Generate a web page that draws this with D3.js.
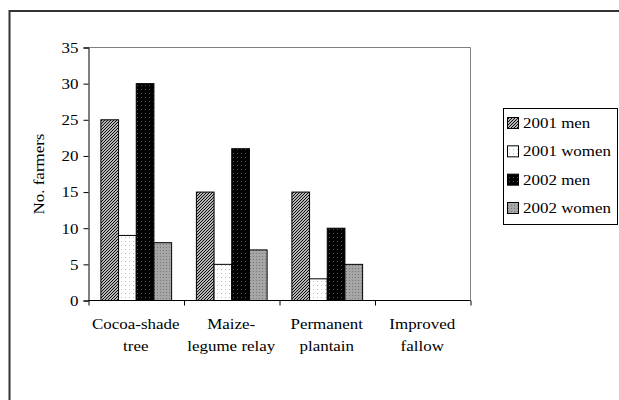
<!DOCTYPE html>
<html>
<head>
<meta charset="utf-8">
<script src="https://cdn.jsdelivr.net/npm/d3@7"></script>
<style>
  body { margin: 0; background: #fff; }
  text { font-family: "Liberation Serif", "Times New Roman", serif; fill: #000; }
</style>
</head>
<body>
<div id="chart"></div>
<script>
// ----- DATA
var categories = [["Cocoa-shade", "tree"], ["Maize-", "legume relay"], ["Permanent", "plantain"], ["Improved", "fallow"]];
var seriesNames = ["2001 men", "2001 women", "2002 men", "2002 women"];
var men2001 = [25, 15, 15, 0];
var women2001 = [9, 5, 3, 0];
var men2002 = [30, 21, 10, 0];
var women2002 = [8, 7, 5, 0];
var yTicks = [0, 5, 10, 15, 20, 25, 30, 35];

var seriesValues = [men2001, women2001, men2002, women2002];
var patternIds = ["p-men01", "p-women01", "p-men02", "p-women02"];

// ----- FIGURE
const size = { width: 619, height: 400 };
const plot = { left: 88, right: 470, top: 47, bottom: 300 };
const textStretch = 1.13;

var svg = d3.select("#chart")
    .append("svg")
    .attr("width", size.width)
    .attr("height", size.height);

// patterns
var defs = svg.append("defs");

var pat1 = defs.append("pattern").attr("id", "p-men01")
    .attr("patternUnits", "userSpaceOnUse").attr("width", 3).attr("height", 3);
pat1.append("rect").attr("width", 3).attr("height", 3).attr("fill", "#fff");
pat1.append("path").attr("d", "M0,3 L3,0 M-1,1 L1,-1 M2,4 L4,2")
    .attr("stroke", "#000").attr("stroke-width", 1.1);

var pat2 = defs.append("pattern").attr("id", "p-women01")
    .attr("patternUnits", "userSpaceOnUse").attr("width", 4).attr("height", 4);
pat2.append("rect").attr("width", 4).attr("height", 4).attr("fill", "#fff");
pat2.append("rect").attr("x", 1).attr("y", 1).attr("width", 1).attr("height", 1).attr("fill", "#bbb");

var pat3 = defs.append("pattern").attr("id", "p-men02")
    .attr("patternUnits", "userSpaceOnUse").attr("width", 4).attr("height", 4);
pat3.append("rect").attr("width", 4).attr("height", 4).attr("fill", "#000");
pat3.append("rect").attr("x", 1).attr("y", 1).attr("width", 1).attr("height", 1).attr("fill", "#555");

var pat4 = defs.append("pattern").attr("id", "p-women02")
    .attr("patternUnits", "userSpaceOnUse").attr("width", 3).attr("height", 3);
pat4.append("rect").attr("width", 3).attr("height", 3).attr("fill", "#a6a6a6");
pat4.append("rect").attr("x", 1).attr("y", 1).attr("width", 1).attr("height", 1).attr("fill", "#777");

// outer frame (runs off the right and bottom edge)
svg.append("path")
    .attr("d", "M9.5," + (size.height + 5) + " L9.5,11 L" + (size.width + 5) + ",11")
    .attr("fill", "none")
    .attr("stroke", "#333")
    .attr("stroke-width", 2);

// scales
var x_scale = d3.scaleBand()
    .domain(d3.range(categories.length))
    .range([plot.left, plot.right]);

var x_inner = d3.scaleBand()
    .domain(d3.range(seriesNames.length))
    .range([0, x_scale.bandwidth()])
    .paddingInner(0)
    .paddingOuter(0.7);

var y_scale = d3.scaleLinear()
    .domain([0, 35])
    .range([plot.bottom, plot.top]);

// plot area border (top/right grey)
svg.append("path")
    .attr("d", "M" + plot.left + "," + (plot.top + 0.5) + " L" + (plot.right + 0.5) + "," + (plot.top + 0.5) + " L" + (plot.right + 0.5) + "," + plot.bottom)
    .attr("fill", "none")
    .attr("stroke", "#808080")
    .attr("stroke-width", 1);

// bars
seriesValues.forEach(function (values, s) {
    svg.append("g")
        .selectAll("rect")
        .data(values)
        .join("rect")
        .filter(function (d) { return d > 0; })
        .attr("x", function (d, i) { return x_scale(i) + x_inner(s) + 0.5; })
        .attr("y", function (d) { return y_scale(d) + 0.5; })
        .attr("width", x_inner.bandwidth())
        .attr("height", function (d) { return y_scale(0) - y_scale(d); })
        .attr("fill", "url(#" + patternIds[s] + ")")
        .attr("stroke", "#000")
        .attr("stroke-width", 1);
});

// Y axis
var y_axis = d3.axisLeft(y_scale).tickValues(yTicks).tickSize(5).tickPadding(5);
var gy = svg.append("g")
    .attr("transform", "translate(" + (plot.left + 0.5) + ",0.5)")
    .call(y_axis);
gy.select(".domain").attr("stroke", "#000");
gy.selectAll(".tick line").attr("stroke", "#000");
gy.selectAll(".tick text")
    .attr("font-size", 15)
    .attr("font-family", "Liberation Serif")
    .attr("transform", function () {
        var x = +d3.select(this).attr("x");
        return "translate(" + x + ",0) scale(" + textStretch + ",1) translate(" + (-x) + ",0)";
    });

// X axis (ticks on category boundaries)
var x_axis = d3.axisBottom(d3.scaleLinear().domain([0, categories.length]).range([plot.left, plot.right]))
    .tickValues(d3.range(categories.length + 1))
    .tickSize(5)
    .tickFormat("");
var gx = svg.append("g")
    .attr("transform", "translate(0.5," + (plot.bottom + 0.5) + ")")
    .call(x_axis);
gx.select(".domain").attr("d", "M" + plot.left + ",0 H" + plot.right).attr("stroke", "#000");

// category labels
categories.forEach(function (lines, i) {
    var cx = x_scale(i) + x_scale.bandwidth() / 2;
    lines.forEach(function (line, j) {
        svg.append("text")
            .attr("transform", "translate(" + cx + "," + (329 + j * 22) + ") scale(" + textStretch + ",1)")
            .attr("text-anchor", "middle")
            .attr("font-size", 15)
            .text(line);
    });
});

// Y label
svg.append("text")
    .attr("transform", "translate(44,174) rotate(-90) scale(" + textStretch + ",1)")
    .attr("text-anchor", "middle")
    .attr("font-size", 15)
    .text("No. farmers");

// legend
var legend = svg.append("g");
legend.append("rect")
    .attr("x", 503.5).attr("y", 108.5)
    .attr("width", 114).attr("height", 116)
    .attr("fill", "#fff").attr("stroke", "#000").attr("stroke-width", 1);

var legendY = d3.scalePoint().domain(seriesNames).range([123, 208]);
seriesNames.forEach(function (name, s) {
    var cy = legendY(name);
    legend.append("rect")
        .attr("x", 507.5).attr("y", cy - 5.5)
        .attr("width", 11).attr("height", 11)
        .attr("fill", "url(#" + patternIds[s] + ")")
        .attr("stroke", "#000");
    legend.append("text")
        .attr("transform", "translate(523," + (cy + 5) + ") scale(" + textStretch + ",1)")
        .attr("font-size", 15)
        .text(name);
});
</script>
</body>
</html>
